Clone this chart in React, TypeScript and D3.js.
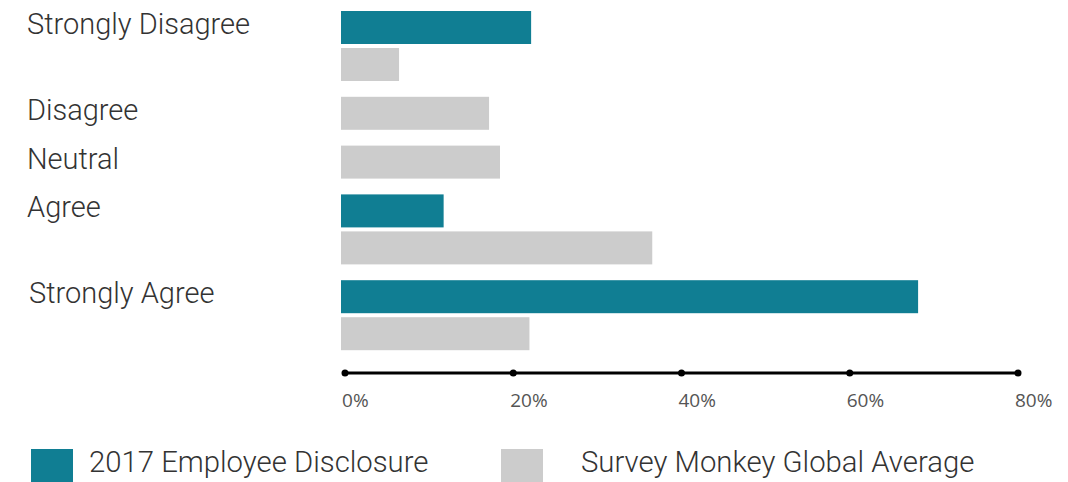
import React from "react";
import * as d3 from "d3";

const categories = ["Strongly Disagree", "Disagree", "Neutral", "Agree", "Strongly Agree"];
const employeeDisclosure: (number | null)[] = [22.6, null, null, 12.2, 68.6];
const surveyMonkey: number[] = [6.9, 17.6, 18.9, 37.0, 22.4];
const tickValues = [0, 20, 40, 60, 80];
const seriesNames = ["2017 Employee Disclosure", "Survey Monkey Global Average"];

const TEAL = "#107e93";
const GRAY = "#cccccc";
const TEXT = "#333333";

export default function App() {
  const W = 1068;
  const H = 482;
  const barX = d3.scaleLinear().domain([0, 80]).range([341, 1014]);
  const axisX = d3.scaleLinear().domain([0, 80]).range([345, 1018]);

  const barH = 33;
  const innerGap = 4;
  const groupGap = 15.8;
  const top = 11;

  type Bar = { cat: string; series: number; value: number; y: number };
  const bars: Bar[] = [];
  const labelY: number[] = [];
  let y = top;
  categories.forEach((c, i) => {
    const vals: [number, number | null][] = [
      [0, employeeDisclosure[i]],
      [1, surveyMonkey[i]],
    ];
    labelY.push(y);
    let first = true;
    vals.forEach(([s, v]) => {
      if (v == null) return;
      if (!first) y += innerGap;
      bars.push({ cat: c, series: s, value: v, y });
      y += barH;
      first = false;
    });
    y += groupGap;
  });

  const axisY = 373;

  return (
    <svg
      width={W}
      height={H}
      style={{ position: "absolute", left: 0, top: 0, background: "#fff" }}
      fontFamily="Roboto, sans-serif"
    >
      {categories.map((c, i) => (
        <text key={c} x={i === 4 ? 29 : 27} y={labelY[i] + 23} fontSize={29} fontWeight={300} fill={TEXT}>
          {c}
        </text>
      ))}
      {bars.map((b, i) => (
        <rect
          key={i}
          x={barX(0)}
          y={b.y}
          width={barX(b.value) - barX(0)}
          height={barH}
          fill={b.series === 0 ? TEAL : GRAY}
        />
      ))}
      <line x1={axisX(0)} x2={axisX(80)} y1={axisY} y2={axisY} stroke="#000" strokeWidth={3} />
      {tickValues.map((t) => (
        <g key={t}>
          <circle cx={axisX(t)} cy={axisY} r={3.5} fill="#000" />
          <text
            x={axisX(t) - 3}
            y={axisY + 34}
            fontSize={19}
            fontFamily="'Open Sans', sans-serif"
            fill="#555"
          >
            {t}%
          </text>
        </g>
      ))}
      <rect x={31} y={449} width={42} height={33} fill={TEAL} />
      <text x={89} y={472} fontSize={29.3} fontWeight={300} fill={TEXT}>
        {seriesNames[0]}
      </text>
      <rect x={501} y={449} width={42} height={33} fill={GRAY} />
      <text x={581} y={472} fontSize={29.3} fontWeight={300} fill={TEXT}>
        {seriesNames[1]}
      </text>
    </svg>
  );
}
